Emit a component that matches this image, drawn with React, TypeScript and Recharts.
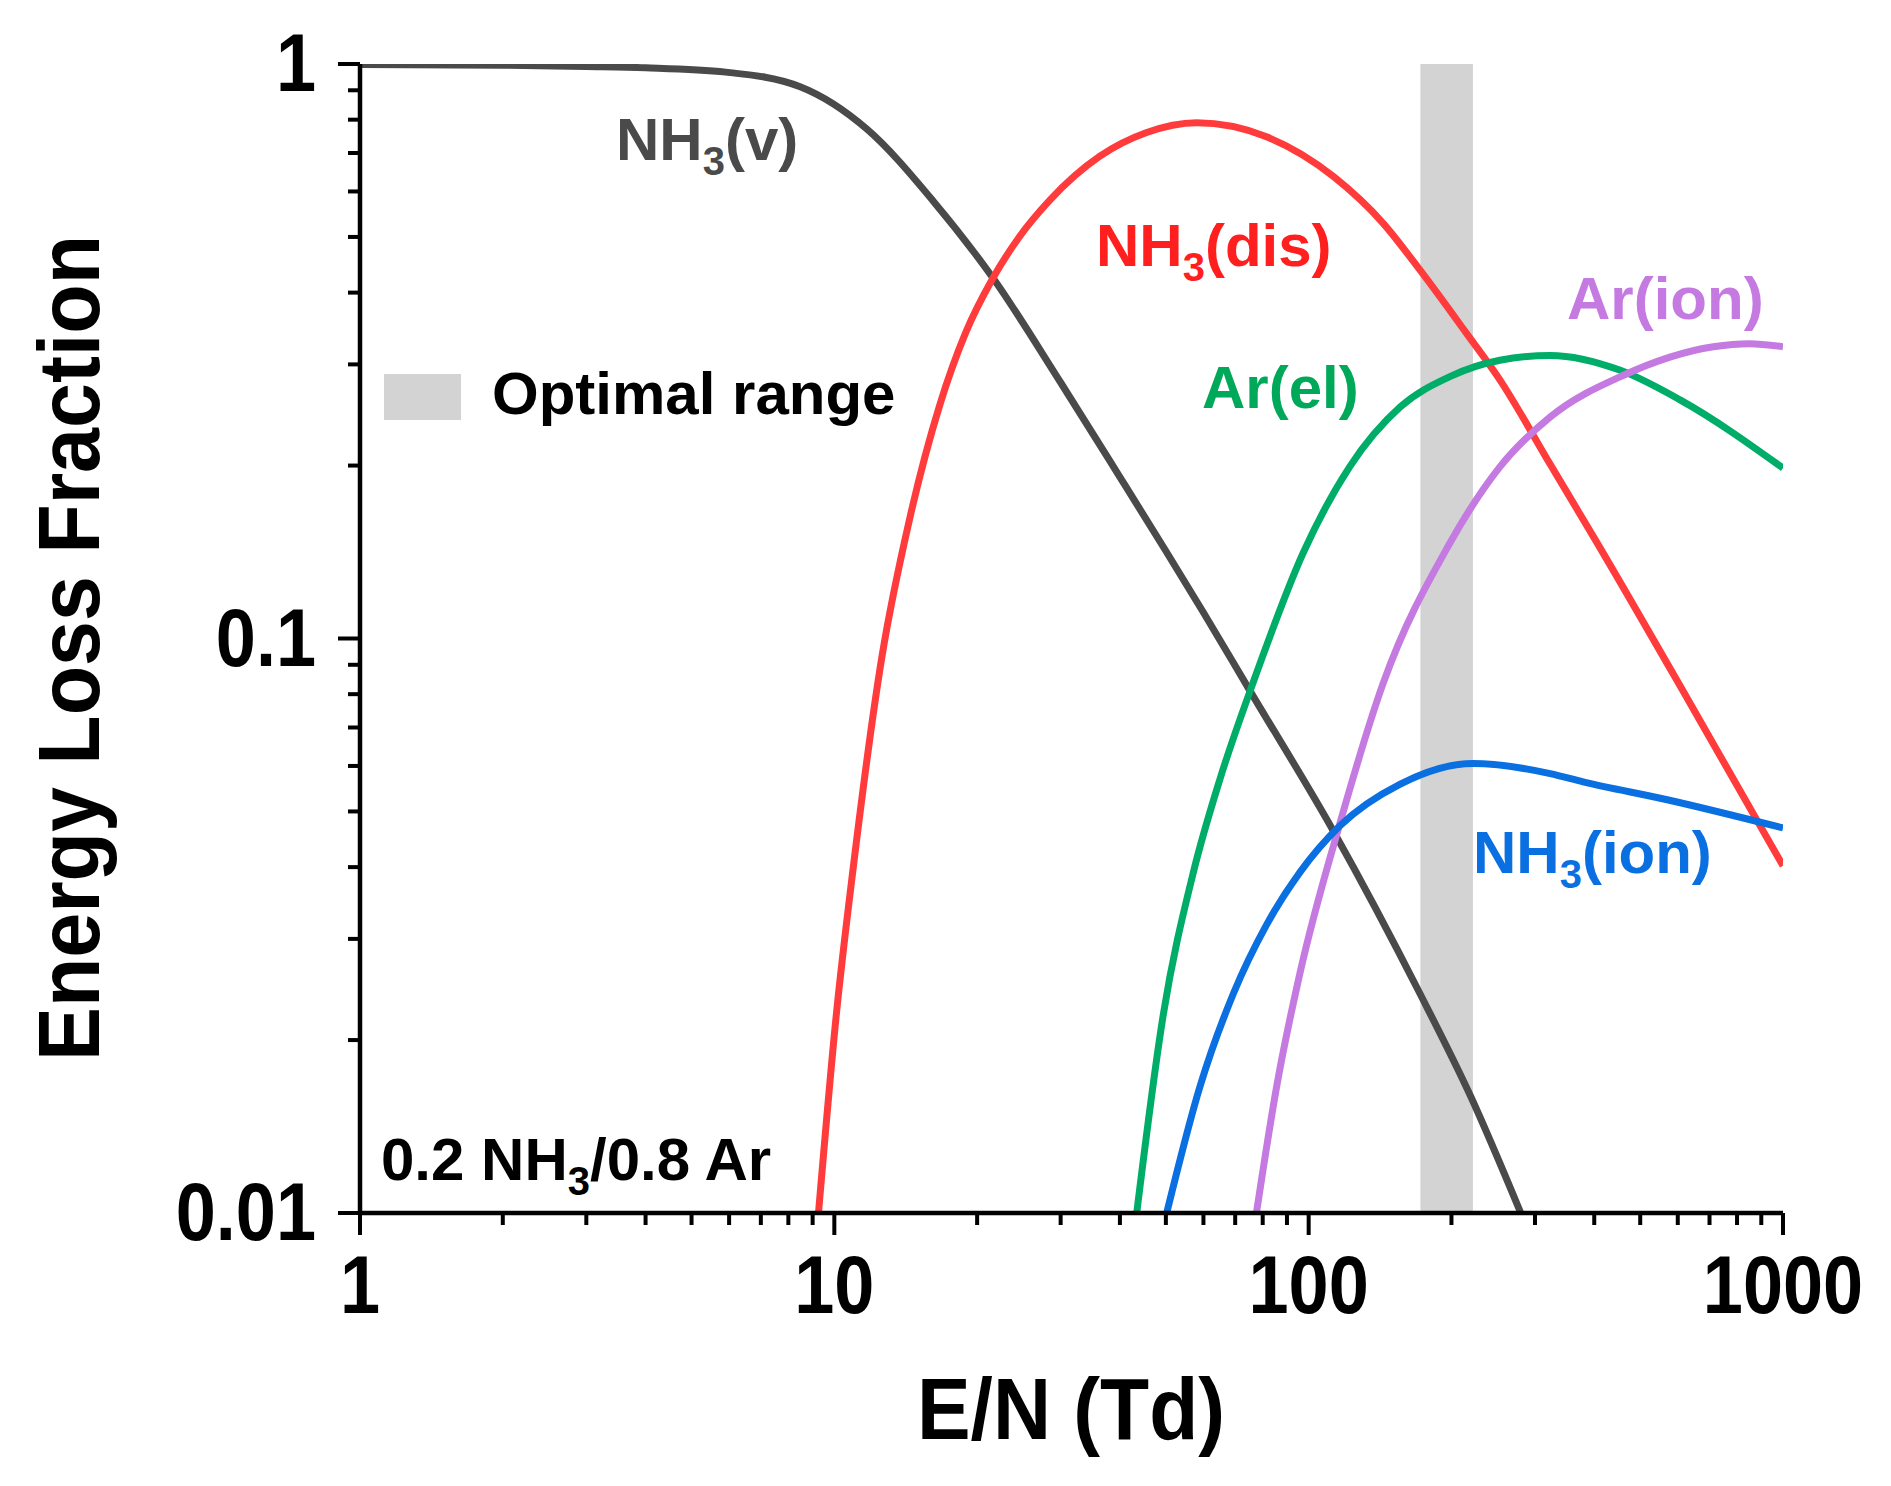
import React from 'react';
import { LineChart, Line, XAxis, YAxis, ReferenceArea } from 'recharts';

// values (E/N in Td, energy loss fraction)
const NH3_V_X = [1, 2, 3, 4, 5.9, 8.47, 11.7, 16.2, 21.6, 30, 40, 50, 60, 75, 112.8, 171.6, 220, 280];
const NH3_V_Y = [0.998, 0.995, 0.99, 0.985, 0.968, 0.913, 0.771, 0.576, 0.424, 0.279, 0.191, 0.142, 0.111, 0.0814, 0.0462, 0.0241, 0.0159, 0.01];

const NH3_DIS_X = [9.26, 10.1, 10.96, 12.6, 14.4, 16.7, 18.9, 21.6, 24.5, 28.5, 36.3, 45.4, 58.1, 81.5, 112.8, 143.6, 171.6, 215, 253, 323, 405, 632, 1000];
const NH3_DIS_Y = [0.01, 0.0222, 0.0399, 0.093, 0.161, 0.2556, 0.34, 0.424, 0.499, 0.58, 0.691, 0.759, 0.79, 0.747, 0.637, 0.528, 0.438, 0.34, 0.282, 0.201, 0.147, 0.078, 0.0402];

const AR_EL_X = [43.4, 49.4, 57.1, 65, 76.4, 97.4, 122, 156, 199, 253, 323, 454, 608, 1000];
const AR_EL_Y = [0.01, 0.0222, 0.0391, 0.0569, 0.0839, 0.141, 0.199, 0.253, 0.286, 0.305, 0.311, 0.293, 0.26, 0.198];

const AR_ION_X = [77.6, 85.6, 95.9, 116.4, 143.6, 197, 253, 323, 460, 713, 850, 1000];
const AR_ION_Y = [0.01, 0.0166, 0.0262, 0.0477, 0.0836, 0.145, 0.199, 0.243, 0.287, 0.322, 0.326, 0.322];

const NH3_ION_X = [50.2, 59, 69.4, 81.6, 95.9, 116.4, 156, 222, 323, 379, 570, 1000];
const NH3_ION_Y = [0.01, 0.0166, 0.0241, 0.0318, 0.0392, 0.0472, 0.0558, 0.0606, 0.0582, 0.0563, 0.0524, 0.0468];

const OPTIMAL_RANGE = [172, 222];

const X_MAJOR = [1, 10, 100, 1000];
const Y_MAJOR = [0.01, 0.1, 1];
const MINOR_MULT = [2, 3, 4, 5, 6, 7, 8, 9];

const X_TICKS = [...X_MAJOR, ...X_MAJOR.slice(0, -1).flatMap((d) => MINOR_MULT.map((m) => d * m))];
const Y_TICKS = [...Y_MAJOR, ...Y_MAJOR.slice(0, -1).flatMap((d) => MINOR_MULT.map((m) => d * m))];

const zip = (xs: number[], ys: number[]) => xs.map((x, i) => ({ x, y: ys[i] }));

const SERIES = [
  { name: 'NH3(v)', data: zip(NH3_V_X, NH3_V_Y), color: '#4a4a4a' },
  { name: 'NH3(dis)', data: zip(NH3_DIS_X, NH3_DIS_Y), color: '#ff3b3b' },
  { name: 'Ar(el)', data: zip(AR_EL_X, AR_EL_Y), color: '#00ad68' },
  { name: 'Ar(ion)', data: zip(AR_ION_X, AR_ION_Y), color: '#c47ae0' },
  { name: 'NH3(ion)', data: zip(NH3_ION_X, NH3_ION_Y), color: '#0a6fe0' },
];

const FONT = '"Liberation Sans", Arial, Helvetica, sans-serif';
const W = 1891;
const H = 1486;

const XTick = (props: any) => {
  const { x, y, payload } = props;
  const major = X_MAJOR.includes(payload.value);
  return (
    <g>
      <line x1={x} x2={x} y1={y} y2={y + (major ? 22 : 12)} stroke="#000" strokeWidth={4} />
      {major && (
        <text
          transform={`translate(${x},${y + 100}) scale(0.89,1)`}
          textAnchor="middle"
          fontFamily={FONT}
          fontWeight="bold"
          fontSize={81}
          fill="#000"
        >
          {payload.value}
        </text>
      )}
    </g>
  );
};

const YTick = (props: any) => {
  const { x, y, payload } = props;
  const major = Y_MAJOR.includes(payload.value);
  return (
    <g>
      <line x1={x} x2={x - (major ? 22 : 12)} y1={y} y2={y} stroke="#000" strokeWidth={4} />
      {major && (
        <text
          transform={`translate(${x - 44},${y + 27}) scale(0.89,1)`}
          textAnchor="end"
          fontFamily={FONT}
          fontWeight="bold"
          fontSize={81}
          fill="#000"
        >
          {payload.value}
        </text>
      )}
    </g>
  );
};

const Sub = ({ children }: { children: React.ReactNode }) => (
  <tspan fontSize={40} dy={15}>{children}</tspan>
);

const label = (x: number, y: number, fill: string, parts: React.ReactNode) => (
  <text x={x} y={y} fill={fill} fontFamily={FONT} fontWeight="bold" fontSize={60}>
    {parts}
  </text>
);

export default function App() {
  return (
    <div style={{ position: 'absolute', left: 0, top: 0, width: W, height: H, background: '#fff' }}>
      <LineChart width={W} height={H} margin={{ top: 64, right: 108, bottom: 123, left: 160 }}>
        <ReferenceArea
          x1={OPTIMAL_RANGE[0]}
          x2={OPTIMAL_RANGE[1]}
          fill="#d3d3d3"
          fillOpacity={1}
          stroke="none"
        />
        <XAxis
          dataKey="x"
          type="number"
          scale="log"
          domain={[1, 1000]}
          allowDataOverflow
          ticks={X_TICKS}
          interval={0}
          tick={<XTick />}
          tickLine={false}
          tickSize={0}
          tickMargin={0}
          height={150}
          axisLine={{ stroke: '#000', strokeWidth: 4.5 }}
        />
        <XAxis
          xAxisId="top"
          orientation="top"
          type="number"
          scale="log"
          domain={[1, 1000]}
          ticks={[]}
          tick={false}
          tickLine={false}
          height={0}
          axisLine={{ stroke: '#000', strokeWidth: 4.5 }}
        />
        <YAxis
          type="number"
          scale="log"
          domain={[0.01, 1]}
          allowDataOverflow
          ticks={Y_TICKS}
          interval={0}
          tick={<YTick />}
          tickLine={false}
          tickSize={0}
          tickMargin={0}
          width={200}
          axisLine={{ stroke: '#000', strokeWidth: 4.5 }}
        />
        <YAxis
          yAxisId="right"
          orientation="right"
          type="number"
          scale="log"
          domain={[0.01, 1]}
          ticks={[]}
          tick={false}
          tickLine={false}
          width={0}
          axisLine={{ stroke: '#000', strokeWidth: 4.5 }}
        />
        {SERIES.map((s) => (
          <Line
            key={s.name}
            data={s.data}
            dataKey="y"
            type="monotone"
            stroke={s.color}
            strokeWidth={7}
            dot={false}
            activeDot={false}
            isAnimationActive={false}
          />
        ))}
      </LineChart>
      <svg
        width={W}
        height={H}
        style={{ position: 'absolute', left: 0, top: 0, pointerEvents: 'none' }}
      >
        <text
          transform="translate(99,648) rotate(-90)"
          textAnchor="middle"
          fontFamily={FONT}
          fontWeight="bold"
          fontSize={88}
          textLength={826}
          lengthAdjust="spacingAndGlyphs"
          fill="#000"
        >
          Energy Loss Fraction
        </text>
        <text
          x={1071}
          y={1439}
          textAnchor="middle"
          fontFamily={FONT}
          fontWeight="bold"
          fontSize={88}
          textLength={308}
          lengthAdjust="spacingAndGlyphs"
          fill="#000"
        >
          E/N (Td)
        </text>
        {label(616, 160, '#4a4a4a', <>NH<Sub>3</Sub><tspan dy={-15}>(v)</tspan></>)}
        {label(1096, 266, '#ff1f1f', <>NH<Sub>3</Sub><tspan dy={-15}>(dis)</tspan></>)}
        {label(1567, 319, '#c47ae0', 'Ar(ion)')}
        {label(1202, 408, '#00a85a', 'Ar(el)')}
        {label(1473, 873, '#0a6fe0', <>NH<Sub>3</Sub><tspan dy={-15}>(ion)</tspan></>)}
        <rect x={384} y={374} width={77} height={46} fill="#d3d3d3" />
        {label(492, 414, '#000', 'Optimal range')}
        {label(381, 1180, '#000', <>0.2 NH<Sub>3</Sub><tspan dy={-15}>/0.8 Ar</tspan></>)}
      </svg>
    </div>
  );
}
